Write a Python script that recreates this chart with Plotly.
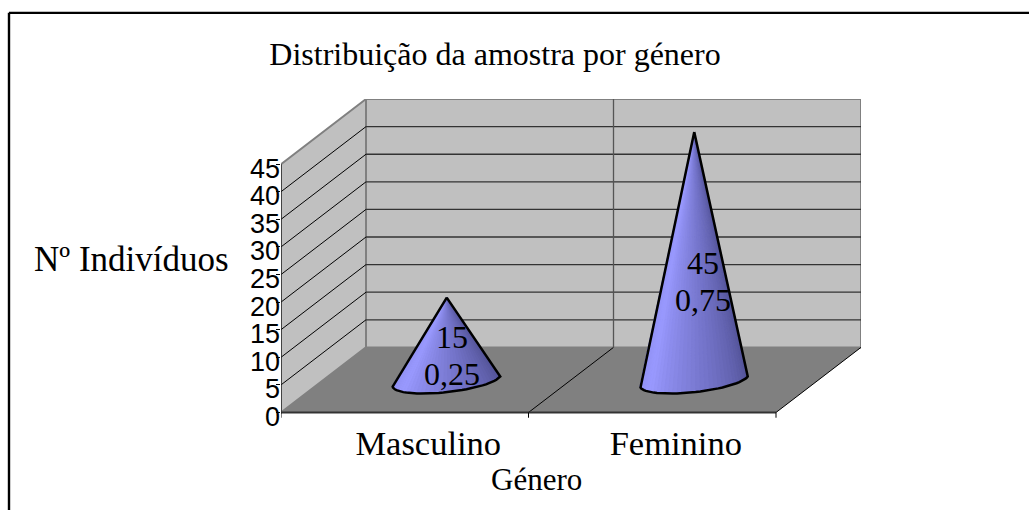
import plotly.graph_objects as go
import numpy as np

categories = ["Masculino", "Feminino"]
counts = [15, 45]
ratios = ["0,25", "0,75"]
y_ticks = [0, 5, 10, 15, 20, 25, 30, 35, 40, 45]
title_text = "Distribuição da amostra por género"
x_title = "Género"
y_title = "Nº Indivíduos"

W, H = 1029, 510
PX_X = 247.5                         # pixels per category
PX_Y = 5.51                          # pixels per unit
L, R, T, B = 281, 861, 99, 412 + PX_Y  # plot box in page pixels (one unit below zero)
SERIF = "Liberation Serif"
SANS = "Liberation Sans"

DX = 85 / PX_X                       # depth offset of the floor/walls, axis units
DY = 65 / PX_Y
X0, X1 = -0.5, 1.5
TOP = y_ticks[-1]
LABEL_DROP = 4 / PX_Y                # y tick labels sit slightly below their tick marks


def px(x):
    return (x - L) / (R - L)


def py(y):
    return (B - y) / (B - T)


def poly(points):
    return "M " + " L ".join(f"{a},{b}" for a, b in points) + " Z"


shapes = []


def fill_shape(points, fill, line_color=None, width=0):
    shapes.append(dict(type="path", path=poly(points), xref="x", yref="y", layer="below",
                       fillcolor=fill, line=dict(color=line_color or fill, width=width)))


def line_shape(x0, y0, x1, y1, color, width=1, ref=("x", "y")):
    shapes.append(dict(type="line", x0=x0, y0=y0, x1=x1, y1=y1, xref=ref[0], yref=ref[1],
                       layer="below", line=dict(color=color, width=width)))


# walls and floor
fill_shape([(X0, 0), (X0 + DX, DY), (X0 + DX, TOP + DY), (X0, TOP)], "#C0C0C0", "#808080", 2)
fill_shape([(X0 + DX, DY), (X1 + DX, DY), (X1 + DX, TOP + DY), (X0 + DX, TOP + DY)], "#C0C0C0", "#808080", 2)
fill_shape([(X0, 0), (X1, 0), (X1 + DX, DY), (X0 + DX, DY)], "#808080")

# gridlines on walls
for v in y_ticks[1:-1]:
    line_shape(X0, v, X0 + DX, v + DY, "#000000", 1)
    line_shape(X0 + DX, v + DY, X1 + DX, v + DY, "#333333", 1.3)

# category divider
line_shape(0.5, 0, 0.5 + DX, DY, "#000000", 1)
line_shape(0.5 + DX, DY, 0.5 + DX, TOP + DY, "#555555", 1.3)

# axis edges
line_shape(X1, 0, X1 + DX, DY, "#000000", 1)
line_shape(X0, 0, X0, TOP, "#222222", 1.3)
line_shape(X0, 0, X1, 0, "#333333", 2)

# category boundary tick marks below the floor
for xt in (X0, 0.5, X1):
    line_shape(xt, 0, xt, -0.95, "#000000", 1)

# outer frame (top and left only)
line_shape(px(9), py(13), px(W), py(13), "#000000", 2.2, ("paper", "paper"))
line_shape(px(9), py(13), px(9), py(H), "#000000", 2.4, ("paper", "paper"))


def shade(f):
    stops = [(0.0, (140, 140, 238)), (0.25, (153, 153, 255)), (0.6, (118, 118, 205)), (1.0, (82, 82, 150))]
    for (a, ca), (b, cb) in zip(stops, stops[1:]):
        if f <= b:
            k = (f - a) / (b - a)
            return "rgb({},{},{})".format(*[int(round(p + (q - p) * k)) for p, q in zip(ca, cb)])
    return "rgb(82,82,150)"


fig = go.Figure()
annotations = []

DEPTH_X, DEPTH_Y = 42 / PX_X, 32 / PX_Y
MAJOR = (53.5 / PX_X, 4 / PX_Y)
MINOR = (-8 / PX_X, -12.5 / PX_Y)
N = 36

for i, (cat, val, ratio) in enumerate(zip(categories, counts, ratios)):
    cx, cy = i + DEPTH_X, DEPTH_Y
    apex = (cx, val + cy)
    t = np.linspace(np.pi, 0, N + 1)
    ex = cx + np.cos(t) * MAJOR[0] + np.sin(t) * MINOR[0]
    ey = cy + np.cos(t) * MAJOR[1] + np.sin(t) * MINOR[1]
    for k in range(N):
        c = shade((k + 0.5) / N)
        fig.add_trace(go.Scatter(
            x=[apex[0], ex[k], ex[k + 1], apex[0]],
            y=[apex[1], ey[k], ey[k + 1], apex[1]],
            mode="lines", fill="toself", fillcolor=c, line=dict(color=c, width=1),
            hoverinfo="skip", showlegend=False))
    fig.add_trace(go.Scatter(
        x=[apex[0], *ex, apex[0]], y=[apex[1], *ey, apex[1]],
        mode="lines", line=dict(color="#000000", width=2.5),
        name=cat, showlegend=False, hoverinfo="x+y"))

    lx = i + DEPTH_X + (5 + 4 * i) / PX_X
    ly = 3.65 + 0.443 * val
    for text, shift in ((str(val), 19), (ratio, -18)):
        annotations.append(dict(x=lx, y=ly, xref="x", yref="y", yshift=shift, text=text,
                                showarrow=False, xanchor="center", yanchor="middle",
                                font=dict(family=SERIF, size=32, color="#000000")))

annotations.append(dict(x=px(536.5), y=py(479), xref="paper", yref="paper", text=x_title, showarrow=False,
                        xanchor="center", yanchor="middle", font=dict(family=SERIF, size=31, color="#000000")))
annotations.append(dict(x=px(131.5), y=py(259), xref="paper", yref="paper", text=y_title, showarrow=False,
                        xanchor="center", yanchor="middle", font=dict(family=SERIF, size=35, color="#000000")))

LABEL_SHIFT = 23.5 / PX_X

fig.update_layout(
    width=W, height=H, autosize=False,
    margin=dict(l=L, r=W - R, t=T, b=H - B, autoexpand=False),
    paper_bgcolor="#FFFFFF", plot_bgcolor="rgba(0,0,0,0)",
    showlegend=False, shapes=shapes, annotations=annotations,
    title=dict(text=title_text, x=495 / W, y=1 - 54 / H, xref="container", yref="container", xanchor="center",
               yanchor="middle", font=dict(family=SERIF, size=32, color="#000000")),
    xaxis=dict(range=[X0, X0 + (R - L) / PX_X], showgrid=False, zeroline=False, showline=False,
               tickmode="array", tickvals=[i + LABEL_SHIFT for i in range(len(categories))],
               ticktext=categories, ticks="", ticklabelstandoff=1,
               tickfont=dict(family=SERIF, size=34.5, color="#000000")),
    yaxis=dict(range=[-1, (B - T) / PX_Y - 1], showgrid=False, zeroline=False, showline=False,
               tickmode="array", tickvals=[v - LABEL_DROP for v in y_ticks],
               ticktext=[str(v) for v in y_ticks], ticks="",
               tickfont=dict(family=SANS, size=27, color="#000000"),
               minor=dict(tickmode="array", tickvals=y_ticks, ticks="outside", ticklen=4,
                          tickcolor="#000000", tickwidth=1, showgrid=False)),
)

fig.write_html("out.html", config=dict(displayModeBar=False),
               post_script="document.body.style.margin='0';document.documentElement.style.overflow='hidden';")
